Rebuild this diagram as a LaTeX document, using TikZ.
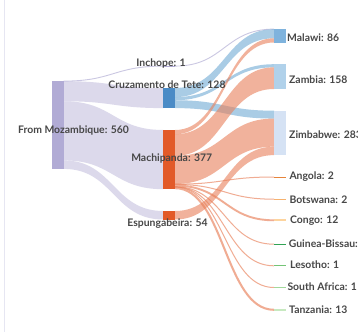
\documentclass[tikz,border=0pt]{standalone}
\usepackage{fontspec}
\setmainfont{Lato}
\definecolor{srcnode}{HTML}{B1ABD5}
\definecolor{srclink}{HTML}{C5C1DF}
\definecolor{cruznode}{HTML}{4A8BC6}
\definecolor{cruzlink}{HTML}{70AAD5}
\definecolor{machnode}{HTML}{E25A28}
\definecolor{machlink}{HTML}{E9805A}
\definecolor{malawi}{HTML}{7FB3DD}
\definecolor{zambia}{HTML}{B0D1EA}
\definecolor{zimbabwe}{HTML}{D5E2F4}
\definecolor{angola}{HTML}{E6843A}
\definecolor{botswana}{HTML}{F6B26E}
\definecolor{congo}{HTML}{FDD49E}
\definecolor{guinea}{HTML}{31A354}
\definecolor{lesotho}{HTML}{74C476}
\definecolor{safrica}{HTML}{A1D99B}
\definecolor{tanzania}{HTML}{C7E9C0}
\definecolor{labelgray}{HTML}{474747}
\definecolor{frameline}{HTML}{E6E6F2}
\newcommand\sband[7]{\fill[#7] (#1,#2) .. controls ({(#1+#4)/2},#2) and ({(#1+#4)/2},#5) .. (#4,#5) -- (#4,#6) .. controls ({(#1+#4)/2},#6) and ({(#1+#4)/2},#3) .. (#1,#3) -- cycle;}
\newcommand\sline[5]{\draw[#5] (#1,#2) .. controls ({(#1+#3)/2},#2) and ({(#1+#3)/2},#4) .. (#3,#4);}
\tikzset{
  srcband/.style={fill=srclink, fill opacity=0.6},
  cruzband/.style={fill=cruzlink, fill opacity=0.6},
  machband/.style={fill=machlink, fill opacity=0.6},
  lavline/.style={draw=srclink, draw opacity=0.9, line width=0.9pt},
  machline/.style={draw=machlink, draw opacity=0.65, line width=1pt},
  nodebox/.style={rectangle, inner sep=0pt, outer sep=0pt, anchor=north west, minimum width=11.7pt},
  lbl/.style={font=\fontsize{10.4}{12}\selectfont\bfseries, text=labelgray, inner sep=0pt},
  rlbl/.style={lbl, anchor=west},
}
\begin{document}
\begin{tikzpicture}[x=1pt,y=-1pt]
\useasboundingbox (0,0) rectangle (358,332);
\fill[white] (0,0) rectangle (358,332);
\draw[frameline, line width=1.8pt] (4.5,0) -- (4.5,332);
% links left
\sline{63.7}{81.1}{163.3}{66.1}{lavline}
\sband{63.7}{81.16}{101.25}{163.3}{88}{108.1}{srcband}
\sband{63.7}{101.25}{160.4}{163.3}{130}{189.2}{srcband}
\sband{63.7}{160.4}{168.9}{163.3}{211}{219.5}{srcband}
% links right
\sline{175}{66.1}{274}{29.1}{lavline}
\sband{175}{88}{97.1}{274}{29.16}{38.26}{cruzband}
\sband{175}{97.1}{100.24}{274}{64.2}{67.34}{cruzband}
\sband{175}{100.24}{108.1}{274}{110.7}{118.55}{cruzband}
\sband{175}{130}{134.24}{274}{38.26}{42.5}{machband}
\sband{175}{134.24}{155.9}{274}{67.34}{89}{machband}
\sband{175}{155.9}{184}{274}{118.55}{146.65}{machband}
\sline{175}{184.15}{274}{177}{machline}
\sline{175}{184.46}{274}{199.2}{machline}
\sline{175}{185.55}{274}{220.3}{machline, line width=1.9pt}
\sline{175}{186.65}{274}{244.2}{machline}
\sline{175}{186.9}{274}{265.8}{machline}
\sline{175}{187.05}{274}{287.5}{machline}
\sline{175}{188.15}{274}{309.8}{machline, line width=2.04pt}
\sband{175}{211}{219.5}{274}{146.65}{155.1}{machband}
% nodes
\node[nodebox, fill=srcnode, minimum height=87.9pt] (moz) at (52,81) {};
\node[nodebox, fill=srcnode, minimum height=0.3pt] (inchope) at (163.3,66) {};
\node[nodebox, fill=cruznode, minimum height=20.1pt] (cruz) at (163.3,88) {};
\node[nodebox, fill=machnode, minimum height=59.2pt] (mach) at (163.3,130) {};
\node[nodebox, fill=machnode, minimum height=8.5pt] (esp) at (163.3,211) {};
\node[nodebox, fill=malawi, minimum height=13.5pt] (malawi) at (274,29) {};
\node[nodebox, fill=zambia, minimum height=24.8pt] (zambia) at (274,64.2) {};
\node[nodebox, fill=zimbabwe, minimum height=44.4pt] (zimbabwe) at (274,110.7) {};
\node[nodebox, fill=angola, minimum height=1pt] (angola) at (274,176.5) {};
\node[nodebox, fill=botswana, minimum height=1pt] (botswana) at (274,198.7) {};
\node[nodebox, fill=congo, minimum height=1.9pt] (congo) at (274,219.4) {};
\node[nodebox, fill=guinea, minimum height=1pt] (guinea) at (274,243.7) {};
\node[nodebox, fill=lesotho, minimum height=1pt] (lesotho) at (274,265.3) {};
\node[nodebox, fill=safrica, minimum height=1pt] (safrica) at (274,287) {};
\node[nodebox, fill=tanzania, minimum height=2pt] (tanzania) at (274,308.8) {};
% labels
\node[lbl] (lmoz) at (73.5,131) {From Mozambique: 560};
\node[lbl] (linchope) at (161,63.3) {Inchope: 1};
\node[lbl] (lcruz) at (167,85) {Cruzamento de Tete: 128};
\node[lbl] (lmach) at (171.7,158.3) {Machipanda: 377};
\node[lbl] (lesp) at (167.5,223.3) {Espungabeira: 54};
\node[rlbl] (lmalawi) at (287,37.3) {Malawi: 86};
\node[rlbl] (lzambia) at (289,79.3) {Zambia: 158};
\node[rlbl] (lzimbabwe) at (289,134.5) {Zimbabwe: 283};
\node[rlbl] (langola) at (289.3,176.5) {Angola: 2};
\node[rlbl] (lbotswana) at (289.3,199.3) {Botswana: 2};
\node[rlbl] (lcongo) at (290,220.3) {Congo: 12};
\node[rlbl] (lguinea) at (288.7,243.5) {Guinea-Bissau: 2};
\node[rlbl] (llesotho) at (290,264.8) {Lesotho: 1};
\node[rlbl] (lsafrica) at (287.3,287) {South Africa: 1};
\node[rlbl] (ltanzania) at (289,309.7) {Tanzania: 13};
\end{tikzpicture}
\end{document}
